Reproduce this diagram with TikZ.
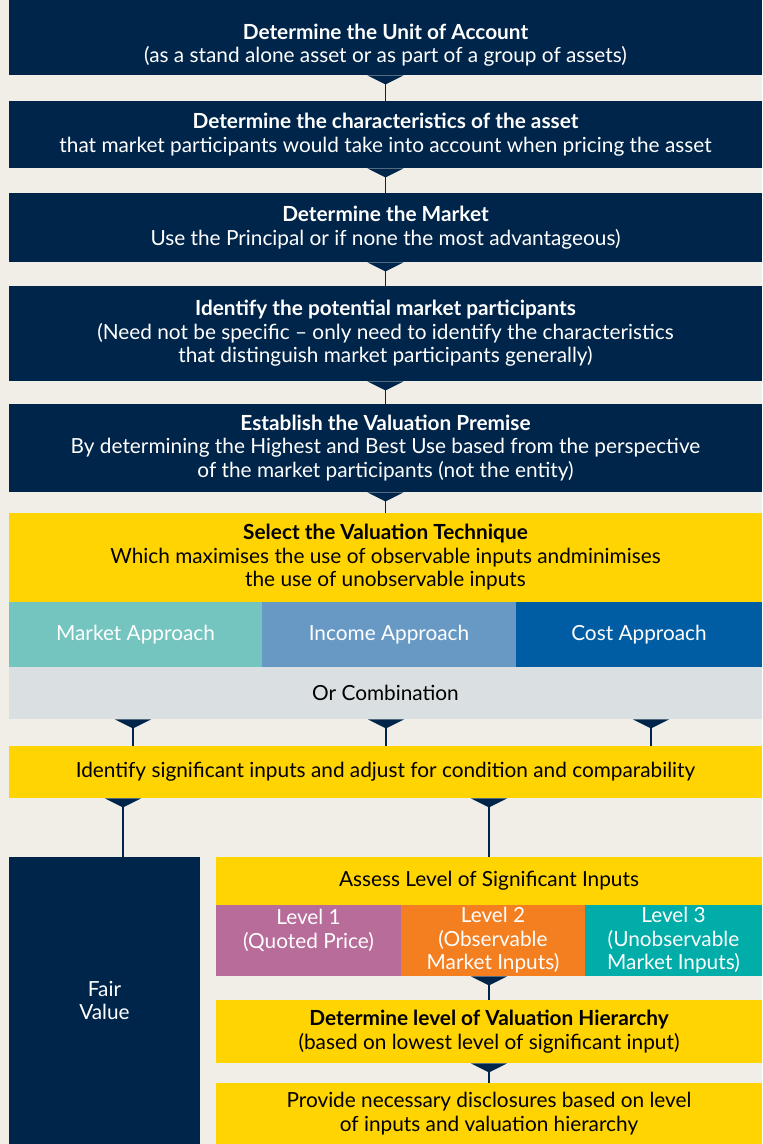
\documentclass[tikz,border=0pt]{standalone}
\usepackage{fontspec}
\setmainfont{Lato}
\usetikzlibrary{arrows.meta}

\definecolor{bgc}{HTML}{F1EEE8}
\definecolor{navy}{HTML}{00254A}
\definecolor{gold}{HTML}{FFD400}
\definecolor{mktc}{HTML}{74C4C0}
\definecolor{incc}{HTML}{6899C5}
\definecolor{costc}{HTML}{005DA4}
\definecolor{combc}{HTML}{DADFE1}
\definecolor{lvla}{HTML}{B86C9A}
\definecolor{lvlb}{HTML}{F47F21}
\definecolor{lvlc}{HTML}{00ADA8}

\begin{document}
\begin{tikzpicture}[x=0.5pt, y=-0.5pt,
  every node/.style={inner sep=0pt, align=center, font=\fontsize{10.4}{11.75}\selectfont},
  navybox/.style={fill=navy, text=white},
  goldbox/.style={fill=gold, text=black},
  link/.style={draw=navy, line width=0.85pt, {Triangle[reversed, width=18pt, length=4.5pt]}-}]

  % page
  \fill[bgc] (0,0) rectangle (762,1144);

  % main steps
  \node[navybox, minimum width=376.5pt, minimum height=37.5pt] (unit) at (385.5,37.5)
    {\mbox{}\\[3.75pt]\textbf{Determine the Unit of Account}\\(as a stand alone asset or as part of a group of assets)};
  \node[navybox, minimum width=376.5pt, minimum height=33.5pt] (chars) at (385.5,134.5)
    {\textbf{Determine the characteristics of the asset}\\that market participants would take into account when pricing the asset};
  \node[navybox, minimum width=376.5pt, minimum height=34.5pt] (market) at (385.5,227.5)
    {\textbf{Determine the Market}\\Use the Principal or if none the most advantageous)};
  \node[navybox, minimum width=376.5pt, minimum height=47.5pt] (partic) at (385.5,333.5)
    {\textbf{Identify the potential market participants}\\(Need not be specific -- only need to identify the characteristics\\that distinguish market participants generally)};
  \node[navybox, minimum width=376.5pt, minimum height=44pt] (premise) at (385.5,448)
    {\textbf{Establish the Valuation Premise}\\By determining the Highest and Best Use based from the perspective\\of the market participants (not the entity)};
  \node[goldbox, minimum width=376.5pt, minimum height=44.5pt] (technique) at (385.5,557.5)
    {\textbf{Select the Valuation Technique}\\Which maximises the use of observable inputs andminimises\\the use of unobservable inputs};

  % approaches
  \node[fill=mktc, text=white, minimum width=126.5pt, minimum height=32.5pt] (mktapp) at (135.5,634.5) {Market Approach};
  \node[fill=incc, text=white, minimum width=127pt, minimum height=32.5pt] (incapp) at (389,634.5) {Income Approach};
  \node[fill=costc, text=white, minimum width=123pt, minimum height=32.5pt] (costapp) at (639,634.5) {Cost Approach};
  \node[fill=combc, text=black, minimum width=376.5pt, minimum height=26pt] (combo) at (385.5,693) {Or Combination};

  \node[goldbox, minimum width=376.5pt, minimum height=26pt] (ident) at (385.5,772)
    {Identify significant inputs and adjust for condition and comparability};

  % hierarchy
  \node[navybox, minimum width=95.5pt, minimum height=143.5pt] (fair) at (104.5,1000.5) {Fair\\Value};
  \node[goldbox, minimum width=273pt, minimum height=24pt] (assess) at (489,881) {Assess Level of Significant Inputs};
  \node[fill=lvla, text=white, minimum width=92.5pt, minimum height=35.5pt] (levela) at (308.5,940.5)
    {Level 1\\(Quoted Price)\\\mbox{}};
  \node[fill=lvlb, text=white, minimum width=92pt, minimum height=35.5pt] (levelb) at (493,940.5)
    {Level 2\\(Observable\\Market Inputs)};
  \node[fill=lvlc, text=white, minimum width=88.5pt, minimum height=35.5pt] (levelc) at (673.5,940.5)
    {Level 3\\(Unobservable\\Market Inputs)};
  \node[goldbox, minimum width=273pt, minimum height=31.5pt] (hier) at (489,1031.5)
    {\textbf{Determine level of Valuation Hierarchy}\\(based on lowest level of significant input)};
  \node[goldbox, minimum width=273pt, minimum height=30.5pt] (discl) at (489,1113.5)
    {Provide necessary disclosures based on level\\of inputs and valuation hierarchy};

  \coordinate (mktdrop) at (133,746);
  \coordinate (incdrop) at (386,746);
  \coordinate (costdrop) at (651,746);
  \coordinate (fvdrop) at (123,857);

  \draw[link] (unit) -- (chars);
  \draw[link] (chars) -- (market);
  \draw[link] (market) -- (partic);
  \draw[link] (partic) -- (premise);
  \draw[link] (premise) -- (technique);

  \draw[link] (mktdrop |- combo.south) -- (mktdrop);
  \draw[link] (incdrop |- combo.south) -- (incdrop);
  \draw[link] (costdrop |- combo.south) -- (costdrop);

  \draw[link] (fvdrop |- ident.south) -- (fvdrop); % to fair value
  \draw[link] (assess |- ident.south) -- (assess.north);
  \draw[link] (hier |- levelb.south) -- (hier.north);
  \draw[link] (hier) -- (discl);

\end{tikzpicture}
\end{document}
